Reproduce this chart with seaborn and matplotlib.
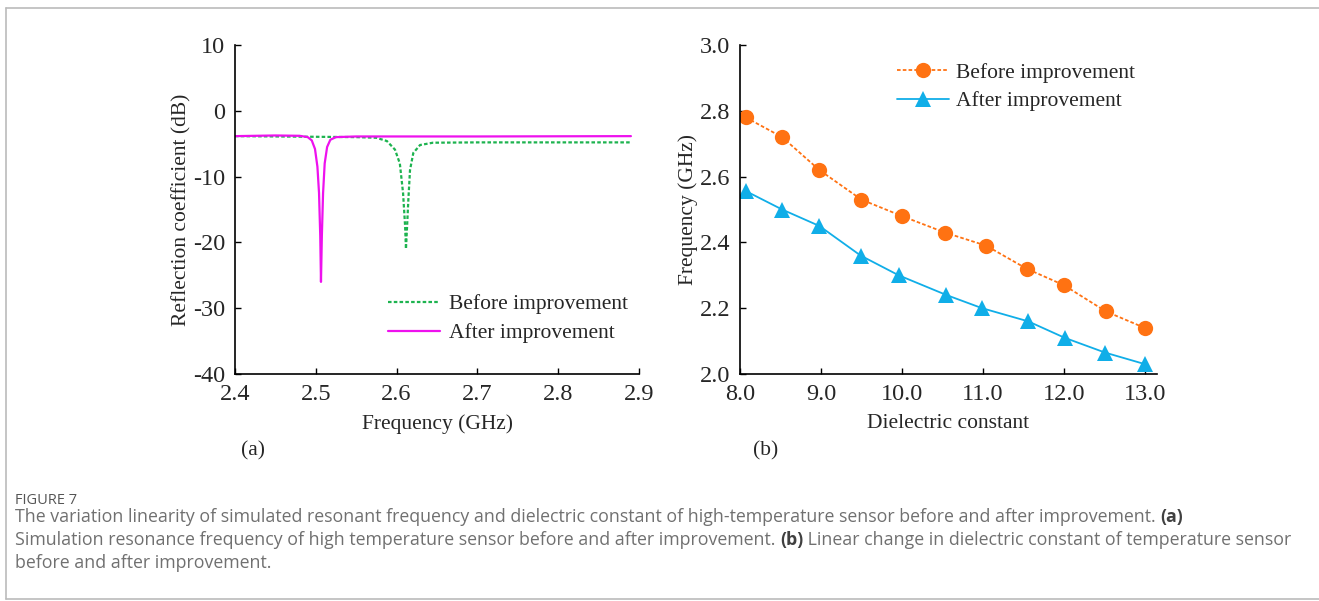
import numpy as np
import pandas as pd
import seaborn as sns
import matplotlib.pyplot as plt
from matplotlib.lines import Line2D

# (a) reflection coefficient
freq_before = [2.400, 2.450, 2.500, 2.550, 2.575, 2.588, 2.598, 2.604, 2.608, 2.6105,
               2.6116, 2.6130, 2.6145, 2.6166, 2.6207, 2.629, 2.645, 2.700, 2.800, 2.890]
db_before = [-3.85, -3.90, -3.95, -4.00, -4.10, -4.60, -5.90, -8.00, -12.5, -17.5,
             -21.0, -17.5, -13.6, -9.0, -6.4, -5.2, -4.85, -4.80, -4.80, -4.80]

freq_after = [2.400, 2.450, 2.480, 2.490, 2.495, 2.499, 2.502, 2.504, 2.5055, 2.5064,
              2.5075, 2.509, 2.511, 2.514, 2.518, 2.525, 2.550, 2.700, 2.890]
db_after = [-3.85, -3.75, -3.80, -4.00, -4.50, -5.80, -8.50, -12.5, -19.0, -26.0,
            -19.0, -12.5, -8.0, -5.5, -4.4, -4.0, -3.90, -3.90, -3.85]

# (b) resonant frequency vs dielectric constant
eps_before = [8.07, 8.52, 8.98, 9.50, 10.0, 10.53, 11.04, 11.54, 12.0, 12.52, 13.0]
f_before = [2.78, 2.72, 2.62, 2.53, 2.48, 2.43, 2.39, 2.32, 2.27, 2.19, 2.14]
eps_after = [8.08, 8.52, 8.98, 9.49, 9.96, 10.55, 10.99, 11.56, 12.01, 12.51, 13.0]
f_after = [2.555, 2.50, 2.45, 2.36, 2.30, 2.24, 2.20, 2.16, 2.11, 2.065, 2.03]

sns.set_style("ticks")
plt.rcParams['font.family'] = ['Liberation Serif', 'DejaVu Serif']
plt.rcParams['xtick.direction'] = 'in'
plt.rcParams['ytick.direction'] = 'in'
plt.rcParams['axes.unicode_minus'] = False

fig = plt.figure(figsize=(13.19, 6.01), dpi=100)
W, H = 1319, 601

def px_axes(x0, x1, y0, y1):
    return fig.add_axes([x0 / W, 1 - y1 / H, (x1 - x0) / W, (y1 - y0) / H])

fs_tick = 17.5
fs = 15.5

# ---- panel (a)
ax1 = px_axes(235, 639, 45, 374)
sns.lineplot(x=freq_before, y=db_before, ax=ax1, sort=False, color='#1db34f',
             linestyle=(0, (1.6, 1.0)), linewidth=1.6, label='Before improvement')
sns.lineplot(x=freq_after, y=db_after, ax=ax1, sort=False, color='#ee11ee',
             linewidth=1.6, label='After improvement')
ax1.set_xlim(2.4, 2.9)
ax1.set_ylim(-40, 10)
ax1.set_xticks([2.4, 2.5, 2.6, 2.7, 2.8, 2.9])
ax1.set_yticks([-40, -30, -20, -10, 0, 10])
ax1.set_xlabel('Frequency (GHz)', fontsize=fs, labelpad=7)
ax1.set_ylabel('Reflection coefficient (dB)', fontsize=fs, labelpad=1)
ax1.legend(loc='lower right', bbox_to_anchor=(1.02, 0.035), frameon=False, fontsize=fs,
           handlelength=2.4, handletextpad=0.4, labelspacing=0.4)

# ---- panel (b)
ax2 = px_axes(740, 1157, 45, 374)
sns.lineplot(x=eps_before, y=f_before, ax=ax2, sort=False, color='#ff7212',
             linestyle=(0, (2, 1.2)), linewidth=1.3, marker='o', markersize=11,
             markeredgewidth=0, label='Before improvement')
sns.lineplot(x=eps_after, y=f_after, ax=ax2, sort=False, color='#10aee8',
             linewidth=1.3, marker='^', markersize=12, markeredgewidth=0,
             label='After improvement')
ax2.set_xlim(8.0, 13.15)
ax2.set_ylim(2.0, 3.0)
ax2.set_xticks([8, 9, 10, 11, 12, 13])
ax2.set_xticklabels(['8.0', '9.0', '10.0', '11.0', '12.0', '13.0'])
ax2.set_yticks([2.0, 2.2, 2.4, 2.6, 2.8, 3.0])
ax2.set_yticklabels(['2.0', '2.2', '2.4', '2.6', '2.8', '3.0'])
ax2.set_xlabel('Dielectric constant', fontsize=fs, labelpad=7)
ax2.set_ylabel('Frequency (GHz)', fontsize=fs, labelpad=1)
ax2.legend(loc='upper left', bbox_to_anchor=(0.33, 1.005), frameon=False, fontsize=fs,
           handlelength=2.4, handletextpad=0.35, labelspacing=0.4)

for ax in (ax1, ax2):
    sns.despine(ax=ax)
    ax.tick_params(labelsize=fs_tick, length=4, width=1, color='black', pad=7)
    for s in ('left', 'bottom'):
        ax.spines[s].set_color('black')
        ax.spines[s].set_linewidth(1.2)

fig.text(253 / W, 1 - 451 / H, '(a)', fontsize=fs, ha='center', va='center')
fig.text(766 / W, 1 - 451 / H, '(b)', fontsize=fs, ha='center', va='center')

# ---- caption
cap_font = ['Open Sans', 'DejaVu Sans']
cap_color = '#707070'
fig.text(15 / W, 1 - 500 / H, 'FIGURE 7', fontsize=10.5, color='#555555',
         family=cap_font, va='center')

renderer = fig.canvas.get_renderer()

def caption_line(y, pieces, x=15):
    for text, bold in pieces:
        t = fig.text(x / W, 1 - y / H, text, fontsize=12.8, family=cap_font,
                     color='#404040' if bold else cap_color,
                     fontweight='bold' if bold else 'normal', va='center')
        x = t.get_window_extent(renderer).x1

caption_line(517, [('The variation linearity of simulated resonant frequency and dielectric constant of '
                    'high-temperature sensor before and after improvement. ', False), ('(a)', True)])
caption_line(540, [('Simulation resonance frequency of high temperature sensor before and after improvement. ', False),
                   ('(b)', True),
                   (' Linear change in dielectric constant of temperature sensor', False)])
caption_line(563, [('before and after improvement.', False)])

# thin frame around the figure
frame = dict(color='#bbbbbb', linewidth=1.2, transform=fig.transFigure)
fig.add_artist(Line2D([6 / W, 1], [1 - 8 / H, 1 - 8 / H], **frame))
fig.add_artist(Line2D([6 / W, 6 / W], [1 - 8 / H, 1 - 599 / H], **frame))
fig.add_artist(Line2D([6 / W, 1], [1 - 599 / H, 1 - 599 / H], **frame))

fig.savefig('out.png', dpi=100)
